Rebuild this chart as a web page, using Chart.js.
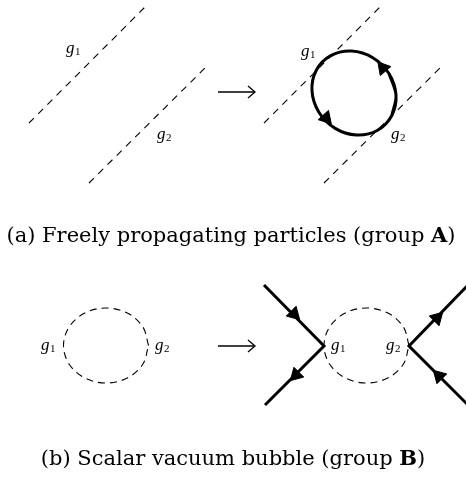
<!DOCTYPE html>
<html lang="en">
<head>
    <meta charset="UTF-8">
    <title>Vacuum diagrams</title>
    <style>
        html, body {
            margin: 0;
            padding: 0;
            background: white;
        }
        .box {
            position: relative;
            width: 466px;
            height: 477px;
        }
    </style>
</head>
<body>
    <div class="box">
        <canvas id="diagram"></canvas>
    </div>

    <script src="https://cdn.jsdelivr.net/npm/chart.js"></script>
    <script>
        // dashed propagators in (a) (x, y in pixels, y down)
        let dashA1 = [{x: 29, y: 123}, {x: 147, y: 5}];
        let dashA2 = [{x: 89, y: 183}, {x: 207, y: 66}];
        let dashA3 = [{x: 264, y: 123}, {x: 382, y: 5}];
        let dashA4 = [{x: 324, y: 183}, {x: 443, y: 65}];

        // fermion loop in (a); first and last points repeated so the loop closes smoothly
        let loopA = [
            {x: 391.7, y: 115.8},
            {x: 396, y: 95.1}, {x: 389.1, y: 73.8}, {x: 372.8, y: 57.7}, {x: 351.5, y: 51},
            {x: 330.8, y: 55.6}, {x: 316.3, y: 70.2}, {x: 312, y: 90.9}, {x: 318.9, y: 112.2},
            {x: 335.2, y: 128.4}, {x: 356.5, y: 135}, {x: 377.2, y: 130.5}, {x: 391.7, y: 115.8},
            {x: 396, y: 95.1}, {x: 389.1, y: 73.8}
        ];

        // scalar bubbles in (b)
        let bubbleB1 = [
            {x: 148.5, y: 345.5}, {x: 142.8, y: 326.8}, {x: 127.3, y: 313}, {x: 106, y: 308},
            {x: 84.8, y: 313}, {x: 69.2, y: 326.8}, {x: 63.5, y: 345.5}, {x: 69.2, y: 364.3},
            {x: 84.8, y: 378}, {x: 106, y: 383}, {x: 127.3, y: 378}, {x: 142.8, y: 364.3},
            {x: 148.5, y: 345.5}
        ];
        let bubbleB2 = [
            {x: 409, y: 345.5}, {x: 403.3, y: 326.8}, {x: 387.8, y: 313}, {x: 366.5, y: 308},
            {x: 345.3, y: 313}, {x: 329.7, y: 326.8}, {x: 324, y: 345.5}, {x: 329.7, y: 364.3},
            {x: 345.3, y: 378}, {x: 366.5, y: 383}, {x: 387.8, y: 378}, {x: 403.3, y: 364.3},
            {x: 409, y: 345.5}
        ];

        // external fermion legs in (b)
        let legsLeft = [{x: 264, y: 285}, {x: 324, y: 346}, {x: 265, y: 405}];
        let legsRight = [{x: 468, y: 285}, {x: 409, y: 346}, {x: 468, y: 405}];

        // the two "long right arrows"
        let arrowA = [{x: 218, y: 92}, {x: 254, y: 92}];
        let arrowHeadA = [{x: 248, y: 86}, {x: 255, y: 92}, {x: 248, y: 98}];
        let arrowB = [{x: 218, y: 346}, {x: 254, y: 346}];
        let arrowHeadB = [{x: 248, y: 340}, {x: 255, y: 346}, {x: 248, y: 352}];

        // arrowheads on fermion lines, rotation in degrees (0 = pointing up)
        let heads = [
            {x: 383, y: 68}, {x: 326, y: 118},
            {x: 294, y: 314}, {x: 296, y: 375}, {x: 437, y: 318}, {x: 439, y: 376}
        ];
        let headAngles = [-40, 138, 135, 225, 45, -45];

        // coupling labels: left x and baseline y
        let labelPos = [
            {x: 66, y: 53}, {x: 157, y: 139}, {x: 301, y: 56}, {x: 391, y: 139},
            {x: 41, y: 350}, {x: 155, y: 350}, {x: 331, y: 350}, {x: 386, y: 350}
        ];
        let labelSubs = ['1', '2', '1', '2', '1', '2', '1', '2'];

        // captions: plain part, bold part, closing part
        let captions = [
            ['(a) Freely propagating particles (group ', 'A', ')'],
            ['(b) Scalar vacuum bubble (group ', 'B', ')']
        ];
        let captionPos = [{x: 231, y: 242}, {x: 233, y: 465}];

        let black = '#000';

        function line(data, width, dash) {
            return {
                data: data,
                showLine: true,
                borderColor: black,
                borderWidth: width,
                borderDash: dash || [],
                pointRadius: 0,
                fill: false
            };
        }

        function curve(data, width, dash) {
            let ds = line(data, width, dash);
            ds.tension = 0.35;
            return ds;
        }

        const textPlugin = {
            id: 'texts',
            afterDatasetsDraw(chart) {
                let ctx = chart.ctx;
                let sx = chart.scales.x;
                let sy = chart.scales.y;
                ctx.save();
                ctx.fillStyle = black;
                ctx.textBaseline = 'alphabetic';

                // g1 / g2
                for (let i = 0; i < labelPos.length; i++) {
                    let px = sx.getPixelForValue(labelPos[i].x);
                    let py = sy.getPixelForValue(labelPos[i].y);
                    ctx.font = 'italic 17px "Liberation Serif"';
                    ctx.textAlign = 'left';
                    ctx.fillText('g', px, py);
                    let w = ctx.measureText('g').width;
                    ctx.font = '11px "Liberation Serif"';
                    ctx.fillText(labelSubs[i], px + w + 0.5, py + 2);
                }

                // captions
                for (let i = 0; i < captions.length; i++) {
                    let parts = captions[i];
                    let fonts = ['21px "DejaVu Serif"', 'bold 21px "DejaVu Serif"', '21px "DejaVu Serif"'];
                    let widths = parts.map((p, k) => {
                        ctx.font = fonts[k];
                        return ctx.measureText(p).width;
                    });
                    let total = widths.reduce((a, b) => a + b, 0);
                    let px = sx.getPixelForValue(captionPos[i].x) - total / 2;
                    let py = sy.getPixelForValue(captionPos[i].y);
                    ctx.textAlign = 'left';
                    for (let k = 0; k < parts.length; k++) {
                        ctx.font = fonts[k];
                        ctx.fillText(parts[k], px, py);
                        px += widths[k];
                    }
                }
                ctx.restore();
            }
        };

        new Chart(document.getElementById('diagram'), {
            type: 'scatter',
            data: {
                datasets: [
                    line(dashA1, 1.1, [7, 6]),
                    line(dashA2, 1.1, [7, 6]),
                    line(dashA3, 1.1, [7, 6]),
                    line(dashA4, 1.1, [7, 6]),
                    curve(loopA, 3),
                    curve(bubbleB1, 1.1, [7, 5]),
                    curve(bubbleB2, 1.1, [7, 5]),
                    line(legsLeft, 3),
                    line(legsRight, 3),
                    line(arrowA, 1.3),
                    line(arrowHeadA, 1.3),
                    line(arrowB, 1.3),
                    line(arrowHeadB, 1.3),
                    {
                        data: heads,
                        showLine: false,
                        pointStyle: 'triangle',
                        pointRadius: 8,
                        pointRotation: headAngles,
                        backgroundColor: black,
                        borderColor: black,
                        borderWidth: 1
                    }
                ]
            },
            options: {
                responsive: true,
                maintainAspectRatio: false,
                animation: false,
                layout: { padding: 0, autoPadding: false },
                plugins: {
                    legend: { display: false },
                    tooltip: { enabled: false }
                },
                scales: {
                    x: { type: 'linear', min: 0, max: 466, display: false },
                    y: { type: 'linear', min: 0, max: 477, reverse: true, display: false }
                }
            },
            plugins: [textPlugin]
        });
    </script>
</body>
</html>
